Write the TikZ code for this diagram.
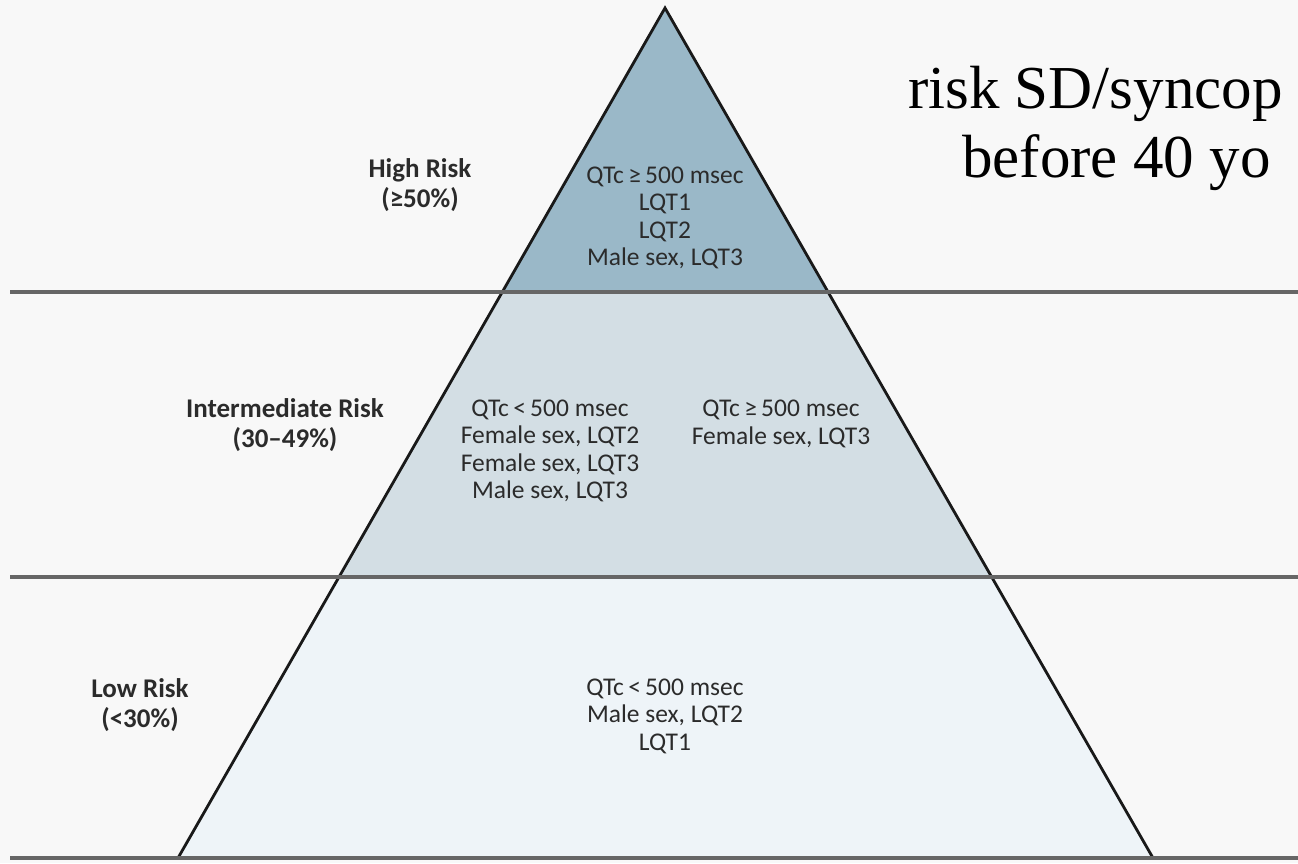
\documentclass[tikz,border=0pt]{standalone}
\usepackage{fontspec}
\setmainfont{Carlito}
\newfontfamily\headfont{Liberation Serif}
\usetikzlibrary{calc}
\definecolor{bg}{HTML}{F8F8F8}
\definecolor{highfill}{HTML}{9AB8C8}
\definecolor{midfill}{HTML}{D3DEE4}
\definecolor{lowfill}{HTML}{EEF4F8}
\definecolor{rulegray}{HTML}{666666}
\definecolor{ink}{HTML}{2B2B2B}
\tikzset{cell/.style = {align=center, text=ink, inner sep=0pt, font=\fontsize{25.5}{27.5}\selectfont}}
\tikzset{risk/.style = {align=center, text=ink, inner sep=0pt, font=\fontsize{27}{30}\selectfont\bfseries}}
\tikzset{tier/.style = {draw=rulegray, line width=4.5pt}}

\begin{document}
\begin{tikzpicture}[x=1pt,y=-1pt]
\useasboundingbox (0,0) rectangle (1298,863);
\fill[bg] (0,0) rectangle (1298,863);
% corners
\coordinate (apex) at (665,8);
\coordinate (bl) at (178,858);
\coordinate (br) at (1153,858);
\coordinate (hl) at ($(apex)!0.3341!(bl)$);
\coordinate (hr) at ($(apex)!0.3341!(br)$);
\coordinate (ml) at ($(apex)!0.6694!(bl)$);
\coordinate (mr) at ($(apex)!0.6694!(br)$);
% bands
\fill[highfill] (apex) -- (hl) -- (hr) -- cycle;
\fill[midfill] (hl) -- (ml) -- (mr) -- (hr) -- cycle;
\fill[lowfill] (ml) -- (bl) -- (br) -- (mr) -- cycle;
\draw[line width=2.8pt, color=black!90, line join=miter] (bl) -- (apex) -- (br);
% tiers
\coordinate (t1) at (10,292);
\coordinate (t2) at (10,577);
\coordinate (t3) at (10,858);
\draw[tier] (t1) -- +(1288,0);
\draw[tier] (t2) -- +(1288,0);
\draw[tier] (t3) -- +(1288,0);
% labels
\node[risk] (high) at (420,185) {High Risk\\(≥50\%)};
\node[risk] (inter) at (285,425) {Intermediate Risk\\(30–49\%)};
\node[risk] (low) at (140,705) {Low Risk\\(<30\%)};
% cells
\node[cell] (hcell) at (665,218) {QTc\,≥\,500 msec\\LQT1\\LQT2\\Male sex, LQT3};
\node[cell] (mleft) at (550,451) {QTc\,<\,500 msec\\Female sex, LQT2\\Female sex, LQT3\\Male sex, LQT3};
\node[cell] (mright) at (781,424) {QTc\,≥\,500 msec\\Female sex, LQT3};
\node[cell] (lcell) at (665,716) {QTc\,<\,500 msec\\Male sex, LQT2\\LQT1};
% title
\node[anchor=base west, inner sep=0pt, font=\headfont\fontsize{61}{70}\selectfont] (title1) at (908,108) {risk SD/syncop};
\node[anchor=base west, inner sep=0pt, font=\headfont\fontsize{61}{70}\selectfont] (title2) at (962,177) {before 40 yo};
\end{tikzpicture}
\end{document}
